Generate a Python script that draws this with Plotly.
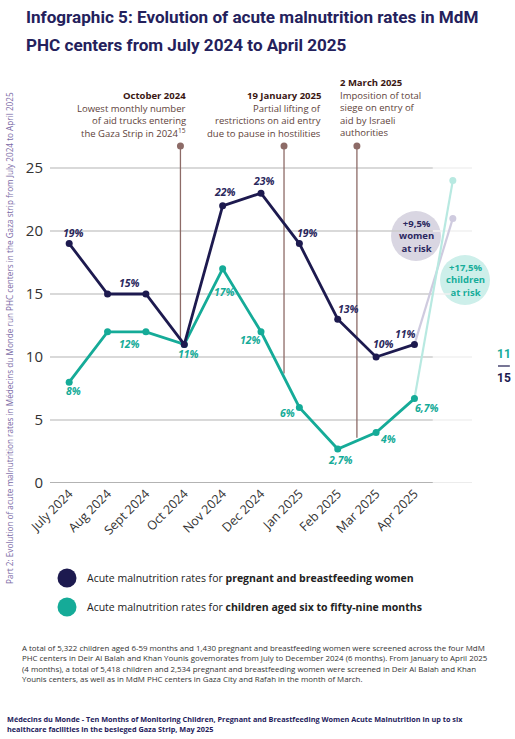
import plotly.graph_objects as go

# ---------------- data ----------------
months = ["July 2024", "Aug 2024", "Sept 2024", "Oct 2024", "Nov 2024",
          "Dec 2024", "Jan 2025", "Feb 2025", "Mar 2025", "Apr 2025"]
women = [19, 15, 15, 11, 22, 23, 19, 13, 10, 11]
children = [8, 12, 12, 11, 17, 12, 6, 2.7, 4, 6.7]
women_projection = 21.0
children_projection = 24.0
women_risk_label = ["+9,5%", "women", "at risk"]
children_risk_label = ["+17,5%", "children", "at risk"]
y_ticks = [0, 5, 10, 15, 20, 25]
event_titles = ["October 2024", "19 January 2025", "2 March 2025"]
event_texts = [
    ["Lowest monthly number", "of aid trucks entering", "the Gaza Strip in 2024<sup>15</sup>"],
    ["Partial lifting of", "restrictions on aid entry", "due to pause in hostilities"],
    ["Imposition of total", "siege on entry of", "aid by Israeli", "authorities"],
]
legend_labels = [
    "Acute malnutrition rates for <b>pregnant and breastfeeding women</b>",
    "Acute malnutrition rates for <b>children aged six to fifty-nine months</b>",
]
note_lines = [
    "A total of 5,322 children aged 6-59 months and 1,430 pregnant and breastfeeding women were screened across the four MdM",
    "PHC centers in Deir Al Balah and Khan Younis govemorates from July to December 2024 (6 months). From January to April 2025",
    "(4 months), a total of 5,418 children and 2,534 pregnant and breastfeeding women were screened in Deir Al Balah and Khan",
    "Younis centers, as well as in MdM PHC centers in Gaza City and Rafah in the month of March.",
]
source_lines = [
    "Médecins du Monde - Ten Months of Monitoring Children, Pregnant and Breastfeeding Women Acute Malnutrition in up to six",
    "healthcare facilities in the besieged Gaza Strip, May 2025",
]
title_lines = ["Infographic 5: Evolution of acute malnutrition rates in MdM",
               "PHC centers from July 2024 to April 2025"]
side_text = ("Part 2: Evolution of acute malnutrition rates in Médecins du Monde run PHC centers "
             "in the Gaza strip from July 2024 to April 2025")
page_current = "11"
page_total = "15"

# ---------------- style / layout ----------------
NAVY = "#1d1a4f"
TEAL = "#15ab98"
NAVY_PALE = "#cfcbdf"
TEAL_PALE = "#b8e9e1"
BROWN = "#8d6b67"
FONT = "Open Sans, Noto Sans, sans-serif"
COND = "Roboto, Liberation Sans, sans-serif"

W, H = 515, 739
L, R, T, B = 50, 472, 140, 483
XMIN, XMAX = -0.5, 10.5
YMAX = (B - T) / 12.6


def PX(x):
    return (x - L) / (R - L)


def PY(y):
    return (B - y) / (B - T)


def fmt(v):
    return f"{v:g}".replace(".", ",") + "%"


xs = list(range(len(months)))
fig = go.Figure()

# projections
fig.add_trace(go.Scatter(x=[xs[-1], xs[-1] + 1], y=[women[-1], women_projection],
                         mode="lines", line=dict(color=NAVY_PALE, width=2.2),
                         hoverinfo="skip", showlegend=False))
fig.add_trace(go.Scatter(x=[xs[-1] + 1], y=[women_projection], mode="markers",
                         marker=dict(size=7, color=NAVY_PALE), hoverinfo="skip",
                         showlegend=False, cliponaxis=False))
fig.add_trace(go.Scatter(x=[xs[-1], xs[-1] + 1], y=[children[-1], children_projection],
                         mode="lines", line=dict(color=TEAL_PALE, width=2.2),
                         hoverinfo="skip", showlegend=False))
fig.add_trace(go.Scatter(x=[xs[-1] + 1], y=[children_projection], mode="markers",
                         marker=dict(size=7, color=TEAL_PALE), hoverinfo="skip",
                         showlegend=False, cliponaxis=False))
# main series
fig.add_trace(go.Scatter(x=xs, y=children, mode="lines+markers",
                         line=dict(color=TEAL, width=2.8), marker=dict(size=7, color=TEAL),
                         showlegend=False, cliponaxis=False))
fig.add_trace(go.Scatter(x=xs, y=women, mode="lines+markers",
                         line=dict(color=NAVY, width=2.8), marker=dict(size=7, color=NAVY),
                         showlegend=False, cliponaxis=False))

shapes = []
annots = []

# gridlines
split = 9.48
for v in y_ticks:
    dark = "#9a9a9a" if v == 0 else "#cccccc"
    light = "#e6e6e6" if v == 0 else "#f0f0f0"
    shapes.append(dict(type="line", xref="x", yref="y", x0=XMIN, x1=split, y0=v, y1=v,
                       line=dict(color=dark, width=1.6 if v == 0 else 1.3), layer="below"))
    shapes.append(dict(type="line", xref="x", yref="y", x0=split, x1=XMAX, y0=v, y1=v,
                       line=dict(color=light, width=1.3), layer="below"))

# event lines
event_x = [2.9, 5.6, 7.5]
event_bottom = [11, 8.7, 3.6]
event_top = 26.75
for ex, eb in zip(event_x, event_bottom):
    shapes.append(dict(type="line", xref="x", yref="y", x0=ex, x1=ex, y0=eb, y1=event_top,
                       line=dict(color=BROWN, width=1.3), layer="below"))
    shapes.append(dict(type="circle", xref="x", yref="y", xsizemode="pixel", ysizemode="pixel",
                       xanchor=ex, yanchor=event_top, x0=-3.5, x1=3.5, y0=-3.5, y1=3.5,
                       fillcolor=BROWN, line=dict(width=0)))

# event texts
ev_pos = [(188, "right", 96), (323, "right", 96), (338, "left", 83)]
for (ex, anchor, ey), ttl, body in zip(ev_pos, event_titles, event_texts):
    annots.append(dict(xref="paper", yref="paper", x=PX(ex), y=PY(ey), text=f"<b>{ttl}</b>",
                       showarrow=False, xanchor=anchor, yanchor="middle",
                       font=dict(family=FONT, size=9.5, color="#3a1612")))
    for i, line in enumerate(body):
        annots.append(dict(xref="paper", yref="paper", x=PX(ex), y=PY(ey + 12.4 * (i + 1)),
                           text=line, showarrow=False, xanchor=anchor, yanchor="middle",
                           font=dict(family=FONT, size=9.5, color="#5e3f3a")))

# data labels
w_off = {0: (4, 11), 1: (22, 11), 4: (2, 14), 5: (3, 12), 6: (8, 11), 7: (11, 10), 8: (7, 13), 9: (-9, 10)}
c_off = {0: (4, -9), 1: (22, -12), 3: (4, -10), 4: (2, -23), 5: (-11, -8), 6: (-12, -6),
         7: (3, -11), 8: (12, -6), 9: (13, -9)}
for i, (dx, dy) in w_off.items():
    annots.append(dict(xref="x", yref="y", x=xs[i], y=women[i], xshift=dx, yshift=dy,
                       text=f"<b><i>{fmt(women[i])}</i></b>", showarrow=False,
                       xanchor="center", yanchor="middle",
                       font=dict(family=FONT, size=10.5, color="#2a275c")))
for i, (dx, dy) in c_off.items():
    annots.append(dict(xref="x", yref="y", x=xs[i], y=children[i], xshift=dx, yshift=dy,
                       text=f"<b><i>{fmt(children[i])}</i></b>", showarrow=False,
                       xanchor="center", yanchor="middle",
                       font=dict(family=FONT, size=10.5, color=TEAL)))

# risk bubbles (paper-referenced so they are not clipped by the plot area)
bubbles = [(416, 236, "#d9d6e2", "#2b2860", women_risk_label),
           (465, 280, "#cdefea", "#17ad9a", children_risk_label)]
for bx, by, fill, tc, lines in bubbles:
    shapes.append(dict(type="circle", xref="paper", yref="paper", xsizemode="pixel",
                       ysizemode="pixel", xanchor=PX(bx), yanchor=PY(by),
                       x0=-25, x1=25, y0=-25, y1=25,
                       fillcolor=fill, line=dict(width=0), layer="below"))
    annots.append(dict(xref="paper", yref="paper", x=PX(bx), y=PY(by),
                       xanchor="center", yanchor="middle",
                       text="<b>" + "<br>".join(lines) + "</b>", showarrow=False,
                       font=dict(family=FONT, size=9.5, color=tc)))

# title
for i, t in enumerate(title_lines):
    annots.append(dict(xref="paper", yref="paper", x=PX(24), y=PY(17 + 28 * i), text=t,
                       showarrow=False, xanchor="left", yanchor="middle",
                       font=dict(family=COND, size=17.1, color="#24215c", weight=700)))

# side text
annots.append(dict(xref="paper", yref="paper", x=PX(9), y=PY(338), text=side_text,
                   textangle=-90, showarrow=False, xanchor="center", yanchor="middle",
                   font=dict(family=FONT, size=8.2, color="#7a6aa6")))

# page number
annots.append(dict(xref="paper", yref="paper", x=PX(504), y=PY(354), text=f"<b>{page_current}</b>",
                   showarrow=False, xanchor="center", yanchor="middle",
                   font=dict(family=COND, size=12, color=TEAL)))
annots.append(dict(xref="paper", yref="paper", x=PX(504), y=PY(378), text=f"<b>{page_total}</b>",
                   showarrow=False, xanchor="center", yanchor="middle",
                   font=dict(family=COND, size=12, color=NAVY)))
shapes.append(dict(type="line", xref="paper", yref="paper", x0=PX(498), x1=PX(510),
                   y0=PY(366), y1=PY(366), line=dict(color=NAVY, width=1.2)))

# legend
for i, (col, lab) in enumerate(zip([NAVY, TEAL], legend_labels)):
    cy = 578 + 29 * i
    shapes.append(dict(type="circle", xref="paper", yref="paper", xsizemode="pixel",
                       ysizemode="pixel", xanchor=PX(67), yanchor=PY(cy),
                       x0=-9.5, x1=9.5, y0=-9.5, y1=9.5, fillcolor=col, line=dict(width=0)))
    annots.append(dict(xref="paper", yref="paper", x=PX(85), y=PY(cy), text=lab,
                       showarrow=False, xanchor="left", yanchor="middle",
                       font=dict(family=FONT, size=10.5, color="#222222")))

# note
for i, t in enumerate(note_lines):
    annots.append(dict(xref="paper", yref="paper", x=PX(20), y=PY(648 + 10.3 * i), text=t,
                       showarrow=False, xanchor="left", yanchor="middle",
                       font=dict(family=FONT, size=7.9, color="#333333")))
for i, t in enumerate(source_lines):
    annots.append(dict(xref="paper", yref="paper", x=PX(5), y=PY(719 + 10 * i),
                       text=f"<b>{t}</b>", showarrow=False, xanchor="left", yanchor="middle",
                       font=dict(family=FONT, size=7.3, color="#24215c")))

fig.update_layout(
    width=W, height=H, margin=dict(l=L, r=W - R, t=T, b=H - B, autoexpand=False),
    paper_bgcolor="white", plot_bgcolor="white",
    shapes=shapes, annotations=annots, showlegend=False,
    xaxis=dict(range=[XMIN, XMAX], tickvals=xs, ticktext=months, tickangle=-45,
               showgrid=False, zeroline=False, showline=False, ticks="",
               tickfont=dict(family=FONT, size=12.5, color="#333333")),
    yaxis=dict(range=[0, YMAX], tickvals=y_ticks, showgrid=False, zeroline=False,
               showline=False, ticks="", ticklabelstandoff=6,
               tickfont=dict(family=FONT, size=15, color="#333333")),
)

fig.write_html("out.html")
